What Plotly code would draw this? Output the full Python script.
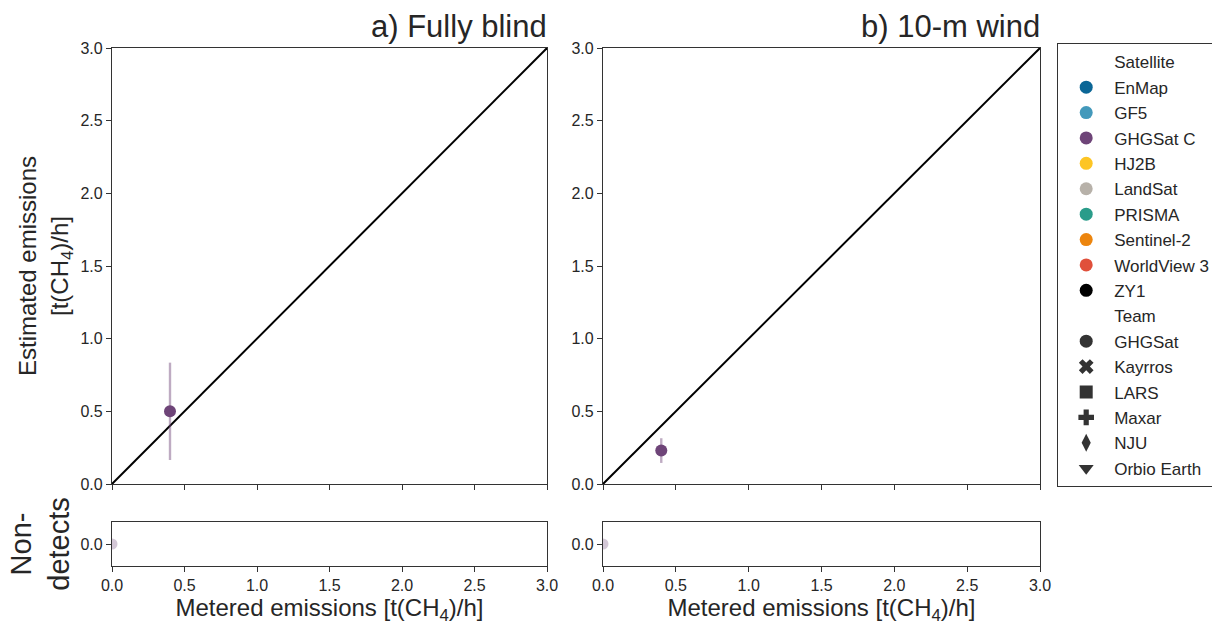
import plotly.graph_objects as go

# ---- data ----
panel_titles = ["a) Fully blind", "b) 10-m wind"]
metered = [0.40, 0.40]
estimated = [0.50, 0.23]
estimated_err = [0.335, 0.085]
nondetect_metered = [0.0, 0.0]
nondetect_estimated = [0.0, 0.0]

satellites = ["EnMap", "GF5", "GHGSat C", "HJ2B", "LandSat", "PRISMA",
              "Sentinel-2", "WorldView 3", "ZY1"]
sat_colors = ["#0b6696", "#4399bb", "#6e4478", "#fdc524", "#b7b1a9",
              "#2a9c8a", "#ec850e", "#e0503b", "#000000"]
teams = ["GHGSat", "Kayrros", "LARS", "Maxar", "NJU", "Orbio Earth"]
team_symbols = ["circle", "x", "square", "cross", "diamond-tall", "triangle-down"]

axis_ticks = [0.0, 0.5, 1.0, 1.5, 2.0, 2.5, 3.0]

FONT = "Liberation Sans, Arial, sans-serif"
TXT = "#262626"
AX = "#333333"
PURPLE = "#6e4478"

W, H = 1212, 626
L, R, T, B = 112, 1040, 48, 566   # plot area in pixels
PW, PH = R - L, B - T

def fx(px):
    return (px - L) / PW

def fy(py):
    return (B - py) / PH

xa = [fx(112), fx(547)]
xb = [fx(603), fx(1040)]
ytop = [fy(484), fy(48)]
ybot = [fy(566), fy(522)]

fig = go.Figure()

suffixes = [("x", "y", "x3", "y3"), ("x2", "y2", "x4", "y4")]
for i in range(2):
    xt, yt, xbx, yby = suffixes[i]
    fig.add_trace(go.Scatter(x=[axis_ticks[0], axis_ticks[-1]], y=[axis_ticks[0], axis_ticks[-1]],
                             mode="lines", line=dict(color="black", width=2),
                             xaxis=xt, yaxis=yt, showlegend=False, hoverinfo="skip"))
    fig.add_trace(go.Scatter(x=[metered[i]], y=[estimated[i]], mode="markers",
                             marker=dict(color=PURPLE, size=12, symbol="circle"),
                             error_y=dict(type="data", array=[estimated_err[i]],
                                          color="rgba(110,68,120,0.45)", thickness=2.4, width=0),
                             xaxis=xt, yaxis=yt, showlegend=False))
    fig.add_trace(go.Scatter(x=[nondetect_metered[i]], y=[nondetect_estimated[i]], mode="markers",
                             marker=dict(color="rgba(110,68,120,0.3)", size=11, symbol="circle"),
                             xaxis=xbx, yaxis=yby, showlegend=False, cliponaxis=True))

# legend entries
k = 0
def add_legend(name, color, symbol):
    global k
    fig.add_trace(go.Scatter(x=[None], y=[None], mode="markers", name=name,
                             marker=dict(color=color, size=13, symbol=symbol),
                             legendgroup="g%d" % k, showlegend=True))
    k += 1

add_legend("Satellite", "rgba(0,0,0,0)", "circle")
for s, c in zip(satellites, sat_colors):
    add_legend(s, c, "circle")
add_legend("Team", "rgba(0,0,0,0)", "circle")
for t, sym in zip(teams, team_symbols):
    add_legend(t, "#333333", sym)

common = dict(showline=True, linecolor=AX, linewidth=1.2, mirror=True,
              ticks="outside", ticklen=5, tickcolor=AX, tickwidth=1.2,
              showgrid=False, zeroline=False, automargin=False,
              tickfont=dict(family=FONT, size=16, color=TXT))

xtitle = dict(text="Metered emissions [t(CH<sub>4</sub>)/h]", font=dict(family=FONT, size=24, color=TXT), standoff=4)

fig.update_layout(
    width=W, height=H, margin=dict(l=L, r=W - R, t=T, b=H - B, autoexpand=False),
    paper_bgcolor="white", plot_bgcolor="white",
    font=dict(family=FONT, color=TXT),
    xaxis=dict(domain=xa, range=[0, 3], tickvals=axis_ticks, showticklabels=False, anchor="y", **common),
    yaxis=dict(domain=ytop, range=[0, 3], tickvals=axis_ticks, tickformat=".1f", anchor="x",
               title=dict(text="Estimated emissions<br>[t(CH<sub>4</sub>)/h]",
                          font=dict(family=FONT, size=24, color=TXT), standoff=5), **common),
    xaxis2=dict(domain=xb, range=[0, 3], tickvals=axis_ticks, showticklabels=False, anchor="y2", **common),
    yaxis2=dict(domain=ytop, range=[0, 3], tickvals=axis_ticks, tickformat=".1f", anchor="x2", **common),
    xaxis3=dict(domain=xa, range=[0, 3], tickvals=axis_ticks, tickformat=".1f", anchor="y3",
                title=xtitle, **common),
    yaxis3=dict(domain=ybot, range=[-0.15, 0.15], tickvals=[0.0], tickformat=".1f", anchor="x3",
                title=dict(text="Non-<br>detects", font=dict(family=FONT, size=29, color=TXT), standoff=2),
                **common),
    xaxis4=dict(domain=xb, range=[0, 3], tickvals=axis_ticks, tickformat=".1f", anchor="y4",
                title=xtitle, **common),
    yaxis4=dict(domain=ybot, range=[-0.15, 0.15], tickvals=[0.0], tickformat=".1f", anchor="x4", **common),
    legend=dict(x=fx(1057), y=fy(43), xanchor="left", yanchor="top",
                bordercolor=AX, borderwidth=1.2, bgcolor="white",
                font=dict(family=FONT, size=17, color=TXT),
                tracegroupgap=0.3, itemwidth=46, traceorder="grouped",
                maxheight=560),
    annotations=[
        dict(text=panel_titles[0], x=fx(549), y=fy(48), xref="paper", yref="paper",
             xanchor="right", yanchor="bottom", showarrow=False, yshift=2,
             font=dict(family=FONT, size=31, color=TXT)),
        dict(text=panel_titles[1], x=fx(1042), y=fy(48), xref="paper", yref="paper",
             xanchor="right", yanchor="bottom", showarrow=False, yshift=2,
             font=dict(family=FONT, size=31, color=TXT)),
    ],
)

fig.write_html("out.html")
